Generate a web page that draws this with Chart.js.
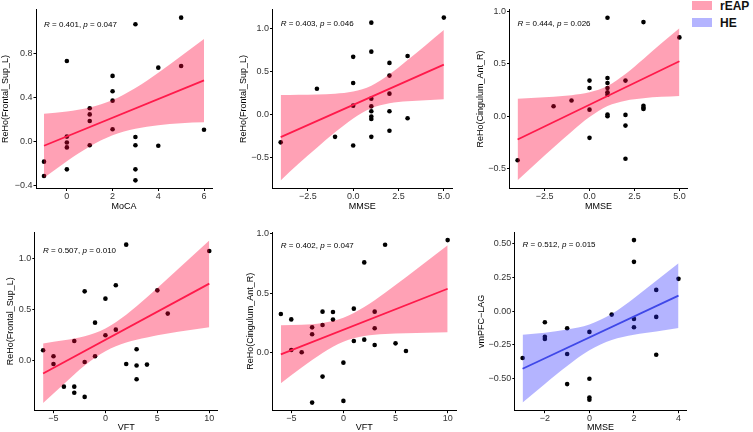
<!DOCTYPE html>
<html>
<head>
<meta charset="utf-8">
<script src="https://cdn.jsdelivr.net/npm/chart.js@4.4.1/dist/chart.umd.min.js"></script>
<style>
  html, body { margin: 0; padding: 0; background: #fff; overflow: hidden; }
  #page { position: relative; width: 753px; height: 432px; overflow: hidden; font-family: 'Liberation Sans', Arial, sans-serif; }
  #page canvas { position: absolute; }
  .key { position: absolute; left: 692px; width: 20px; height: 9px; }
  .keytext { position: absolute; left: 720px; font-weight: bold; font-size: 12px; line-height: 12px; color: #111; }
</style>
</head>
<body>
<div id="page">
  <div class="key" style="top:1px;background:rgb(255,160,180)"></div>
  <div class="keytext" style="top:0px">rEAP</div>
  <div class="key" style="top:18px;background:rgb(180,180,255)"></div>
  <div class="keytext" style="top:17px">HE</div>
</div>
<script>
// ---- data ----

// panel 1: MoCA vs ReHo(Frontal_Sup_L)
const moca_x = [-1, -1, 0, 0, 0, 0, 0, 1, 1, 1, 1, 2, 2, 2, 2, 3, 3, 3, 3, 3, 4, 4, 5, 5, 6];
const moca_y = [-0.18, -0.31, 0.736, 0.048, -0.006, -0.05, -0.25, 0.306, 0.25, 0.19, -0.03, 0.60, 0.46, 0.375, 0.115, 1.07, 0.045, -0.03, -0.25, -0.35, 0.675, -0.035, 1.13, 0.69, 0.11];
const moca_bandX = [-1, 0, 1, 2, 3, 4, 5, 6];
const moca_upper = [0.256, 0.276, 0.312, 0.38, 0.49, 0.628, 0.78, 0.935];
const moca_lower = [-0.326, -0.176, -0.042, 0.06, 0.12, 0.152, 0.17, 0.178];
const moca_fit = [-0.035, 0.56];

// panel 2: MMSE vs ReHo(Frontal_Sup_L)
const mmseA_x = [-4, -2, -1, 0, 0, 0, 0, 1, 1, 1, 1, 1, 1, 1, 1, 2, 2, 2, 2, 2, 3, 3, 5];
const mmseA_y = [-0.32, 0.30, -0.256, 0.67, 0.368, 0.105, -0.357, 1.066, 0.73, 0.186, 0.097, 0.04, -0.02, -0.05, -0.256, 0.60, 0.453, 0.244, 0.04, -0.186, 0.68, -0.04, 1.124];
const mmseA_bandX = [-4, -3, -2, -1, 0, 1, 2, 3, 4, 5];
const mmseA_upper = [0.228, 0.231, 0.234, 0.244, 0.269, 0.336, 0.468, 0.634, 0.805, 0.98];
const mmseA_lower = [-0.76, -0.565, -0.382, -0.204, -0.043, 0.076, 0.132, 0.155, 0.168, 0.18];
const mmseA_fit = [-0.26, 0.58];

// panel 3: MMSE vs ReHo(Cingulum_Ant_R)
const mmseB_x = [-4, -2, -1, 0, 0, 0, 0, 1, 1, 1, 1, 1, 1, 1, 1, 2, 2, 2, 2, 3, 3, 3, 3, 5];
const mmseB_y = [-0.42, 0.095, 0.15, 0.34, 0.27, 0.063, -0.206, 0.94, 0.365, 0.317, 0.27, 0.229, 0.206, 0.016, 0.0, 0.34, 0.013, -0.089, -0.406, 0.898, 0.10, 0.08, 0.07, 0.752];
const mmseB_bandX = [-4, -3, -2, -1, 0, 1, 2, 3, 4, 5];
const mmseB_upper = [0.167, 0.176, 0.187, 0.201, 0.228, 0.288, 0.403, 0.546, 0.695, 0.84];
const mmseB_lower = [-0.611, -0.454, -0.299, -0.147, -0.008, 0.098, 0.149, 0.172, 0.185, 0.194];
const mmseB_fit = [-0.222, 0.524];

// panel 4: VFT vs ReHo(Frontal_Sup_L)
const vftA_x = [-6, -5, -5, -4, -3, -3, -3, -2, -2, -2, -1, -1, 0, 0, 1, 1, 2, 2, 3, 3, 3, 4, 5, 6, 10];
const vftA_y = [0.104, 0.045, -0.03, -0.25, 0.194, -0.25, -0.31, 0.676, -0.01, -0.35, 0.372, 0.045, 0.605, 0.25, 0.735, 0.304, 1.13, -0.03, 0.113, -0.045, -0.178, -0.036, 0.686, 0.46, 1.068];
const vftA_bandX = [-6, -4, -2, 0, 2, 4, 6, 8, 10];
const vftA_upper = [0.17, 0.20, 0.24, 0.315, 0.449, 0.618, 0.80, 0.986, 1.17];
const vftA_lower = [-0.41, -0.225, -0.044, 0.095, 0.179, 0.228, 0.266, 0.298, 0.326];
const vftA_fit = [-0.123, 0.751];

// panel 5: VFT vs ReHo(Cingulum_Ant_R)
const vftB_x = [-6, -5, -5, -4, -3, -3, -3, -2, -2, -2, -1, -1, 0, 0, 1, 1, 2, 2, 3, 3, 3, 4, 5, 6, 10];
const vftB_y = [0.324, 0.279, 0.022, 0.003, 0.212, 0.154, -0.419, 0.344, 0.232, -0.201, 0.341, 0.277, -0.084, -0.405, 0.369, 0.098, 0.757, 0.109, 0.344, 0.204, 0.064, 0.905, 0.078, 0.014, 0.944];
const vftB_bandX = [-6, -4, -2, 0, 2, 4, 6, 8, 10];
const vftB_upper = [0.23, 0.233, 0.248, 0.292, 0.382, 0.503, 0.633, 0.767, 0.90];
const vftB_lower = [-0.257, -0.125, -0.002, 0.092, 0.140, 0.157, 0.163, 0.167, 0.172];
const vftB_fit = [-0.014, 0.536];

// panel 6: MMSE vs vmPFC-LAG (HE)
const heMmse_x = [-3, -2, -2, -2, -1, -1, -1, 0, 0, 0, 0, 1, 2, 2, 2, 2, 3, 3, 3, 4];
const heMmse_y = [-0.347, -0.082, -0.19, -0.205, -0.126, -0.317, -0.54, -0.153, -0.50, -0.639, -0.656, -0.025, 0.527, 0.366, -0.057, -0.119, 0.158, -0.042, -0.322, 0.24];
const heMmse_bandX = [-3, -2, -1, 0, 1, 2, 3, 4];
const heMmse_upper = [-0.174, -0.159, -0.136, -0.098, -0.021, 0.096, 0.226, 0.355];
const heMmse_lower = [-0.677, -0.539, -0.406, -0.290, -0.213, -0.174, -0.15, -0.125];
const heMmse_fit = [-0.426, 0.116];

// correlation labels
const corR = ['0.401', '0.403', '0.444', '0.507', '0.402', '0.512'];
const corP = ['0.047', '0.046', '0.026', '0.010', '0.047', '0.015'];

// tick values and labels
const ticksMoca = [0, 2, 4, 6];
const labelsMoca = ['0', '2', '4', '6'];
const ticksMmse = [-2.5, 0, 2.5, 5];
const labelsMmse = ['\u22122.5', '0.0', '2.5', '5.0'];
const ticksVft = [-5, 0, 5, 10];
const labelsVft = ['\u22125', '0', '5', '10'];
const ticksHe = [-2, 0, 2, 4];
const labelsHe = ['\u22122', '0', '2', '4'];
const ticksY1 = [-0.4, 0, 0.4, 0.8];
const labelsY1 = ['\u22120.4', '0.0', '0.4', '0.8'];
const ticksYhalf = [-0.5, 0, 0.5, 1.0];
const labelsYhalf = ['\u22120.5', '0.0', '0.5', '1.0'];
const ticksY4 = [0, 0.5, 1.0];
const labelsY4 = ['0.0', '0.5', '1.0'];
const ticksY6 = [-0.5, -0.25, 0, 0.25, 0.5];
const labelsY6 = ['\u22120.50', '\u22120.25', '0.00', '0.25', '0.50'];

const PINK_LINE = '#FF1A4B';
const PINK_BAND = 'rgba(255,0,54,0.37)';
const BLUE_LINE = '#3F48E8';
const BLUE_BAND = 'rgba(40,40,255,0.35)';

const FONT = "'Liberation Sans', Arial, sans-serif";
Chart.defaults.font.family = FONT;

const panels = [
  { px: moca_x, py: moca_y, bx: moca_bandX, up: moca_upper, lo: moca_lower, fit: moca_fit,
    xr: [-1.35, 6.35], yr: [-0.424, 1.204], xt: ticksMoca, xl: labelsMoca, yt: ticksY1, yl: labelsY1,
    xTitle: 'MoCA', yTitle: 'ReHo(Frontal_Sup_L)', lab: [-1, 1.068], k: 0,
    box: [0, 0, 220, 215], yw: 36, padT: 9.5, padR: 8, xh: 26.5, xPad: 2.6, line: PINK_LINE, band: PINK_BAND },
  { px: mmseA_x, py: mmseA_y, bx: mmseA_bandX, up: mmseA_upper, lo: mmseA_lower, fit: mmseA_fit,
    xr: [-4.45, 5.45], yr: [-0.854, 1.218], xt: ticksMmse, xl: labelsMmse, yt: ticksYhalf, yl: labelsYhalf,
    xTitle: 'MMSE', yTitle: 'ReHo(Frontal_Sup_L)', lab: [-4, 1.049], k: 1,
    box: [238, 0, 227, 215], yw: 34.5, padT: 9.5, padR: 13, xh: 26.5, xPad: 2.6, line: PINK_LINE, band: PINK_BAND },
  { px: mmseB_x, py: mmseB_y, bx: mmseB_bandX, up: mmseB_upper, lo: mmseB_lower, fit: mmseB_fit,
    xr: [-4.45, 5.45], yr: [-0.689, 1.018], xt: ticksMmse, xl: labelsMmse, yt: ticksYhalf.slice(0, 4), yl: labelsYhalf,
    xTitle: 'MMSE', yTitle: 'ReHo(Cingulum_Ant_R)', lab: [-4, 0.883], k: 2,
    box: [475, 0, 215, 215], yw: 34.5, padT: 9.5, padR: 2.5, xh: 26.5, xPad: 2.6, line: PINK_LINE, band: PINK_BAND },
  { px: vftA_x, py: vftA_y, bx: vftA_bandX, up: vftA_upper, lo: vftA_lower, fit: vftA_fit,
    xr: [-6.8, 10.8], yr: [-0.484, 1.253], xt: ticksVft, xl: labelsVft, yt: ticksY4, yl: labelsY4,
    xTitle: 'VFT', yTitle: 'ReHo(Frontal_Sup_L)', lab: [-6, 1.068], k: 3,
    box: [5, 215, 235, 219], yw: 29.8, padT: 17, padR: 22.4, xh: 23.3, xPad: 0.6, line: PINK_LINE, band: PINK_BAND },
  { px: vftB_x, py: vftB_y, bx: vftB_bandX, up: vftB_upper, lo: vftB_lower, fit: vftB_fit,
    xr: [-6.8, 10.8], yr: [-0.487, 1.012], xt: ticksVft, xl: labelsVft, yt: ticksY4, yl: labelsY4,
    xTitle: 'VFT', yTitle: 'ReHo(Cingulum_Ant_R)', lab: [-6, 0.894], k: 4,
    box: [245, 215, 231, 219], yw: 27.5, padT: 17, padR: 20, xh: 23.3, xPad: 0.6, line: PINK_LINE, band: PINK_BAND },
  { px: heMmse_x, py: heMmse_y, bx: heMmse_bandX, up: heMmse_upper, lo: heMmse_lower, fit: heMmse_fit,
    xr: [-3.35, 4.35], yr: [-0.737, 0.587], xt: ticksHe, xl: labelsHe, yt: ticksY6, yl: labelsY6,
    xTitle: 'MMSE', yTitle: 'vmPFC\u2212LAG', lab: [-3, 0.49], k: 5,
    box: [476, 215, 215, 219], yw: 38.8, padT: 17, padR: 4.7, xh: 23.3, xPad: 0.6, line: BLUE_LINE, band: BLUE_BAND }
];

const corLabel = {
  id: 'corLabel',
  afterDatasetsDraw(chart, args, opts) {
    const ctx = chart.ctx;
    let x = chart.scales.x.getPixelForValue(opts.at[0]);
    const y = chart.scales.y.getPixelForValue(opts.at[1]);
    const parts = [['R', 'italic '], [' = ' + opts.r + ', ', ''], ['p', 'italic '], [' = ' + opts.p, '']];
    ctx.save();
    ctx.fillStyle = '#000';
    ctx.textBaseline = 'middle';
    ctx.textAlign = 'left';
    parts.forEach(([t, st]) => {
      ctx.font = st + '8px ' + FONT;
      ctx.fillText(t, x, y);
      x += ctx.measureText(t).width;
    });
    ctx.restore();
  }
};

function pts(xs, ys) {
  return xs.map((x, i) => ({ x: x, y: ys[i] }));
}

const page = document.getElementById('page');

panels.forEach(p => {
  const cv = document.createElement('canvas');
  cv.width = p.box[2];
  cv.height = p.box[3];
  cv.style.left = p.box[0] + 'px';
  cv.style.top = p.box[1] + 'px';
  page.appendChild(cv);

  const axisCommon = {
    type: 'linear',
    grid: { drawOnChartArea: false, drawTicks: true, tickLength: 2.5, color: '#000', lineWidth: 1 },
    border: { display: true, color: '#000', width: 1 }
  };

  new Chart(cv, {
    type: 'scatter',
    data: {
      datasets: [
        { type: 'line', data: pts([p.bx[0], p.bx[p.bx.length - 1]], p.fit), showLine: true,
          borderColor: p.line, borderWidth: 1.8, pointRadius: 0, fill: false, order: 0 },
        { type: 'line', data: pts(p.bx, p.up), showLine: true, borderColor: 'rgba(0,0,0,0)', borderWidth: 0,
          pointRadius: 0, fill: 2, backgroundColor: p.band, cubicInterpolationMode: 'monotone', order: 1 },
        { type: 'line', data: pts(p.bx, p.lo), showLine: true, borderColor: 'rgba(0,0,0,0)', borderWidth: 0,
          pointRadius: 0, fill: false, cubicInterpolationMode: 'monotone', order: 1 },
        { type: 'scatter', data: pts(p.px, p.py), pointRadius: 2.3, pointHoverRadius: 2.3,
          backgroundColor: '#000', borderWidth: 0, order: 2 }
      ]
    },
    options: {
      responsive: false,
      animation: false,
      devicePixelRatio: 1,
      layout: { padding: { left: 0, top: p.padT, right: p.padR, bottom: 0 } },
      plugins: {
        legend: { display: false },
        tooltip: { enabled: false },
        corLabel: { at: p.lab, r: corR[p.k], p: corP[p.k] }
      },
      scales: {
        x: Object.assign({}, axisCommon, {
          min: p.xr[0], max: p.xr[1],
          afterBuildTicks: s => { s.ticks = p.xt.map(v => ({ value: v })); },
          afterFit: s => { s.height = p.xh; },
          ticks: { callback: (v, i) => p.xl[i], autoSkip: false, maxRotation: 0, padding: 0,
                   color: '#333', font: { size: 9 } },
          title: { display: true, text: p.xTitle, color: '#000', font: { size: 9 },
                   padding: { top: 0, bottom: p.xPad } }
        }),
        y: Object.assign({}, axisCommon, {
          min: p.yr[0], max: p.yr[1],
          afterBuildTicks: s => { s.ticks = p.yt.map(v => ({ value: v })); },
          afterFit: s => { s.width = p.yw; },
          ticks: { callback: (v, i) => p.yl[i], autoSkip: false, padding: 1,
                   color: '#333', font: { size: 9 } },
          title: { display: true, text: p.yTitle, color: '#000', font: { size: 9 },
                   padding: { top: 0.6, bottom: 0 } }
        })
      }
    },
    plugins: [corLabel]
  });
});
</script>
</body>
</html>
